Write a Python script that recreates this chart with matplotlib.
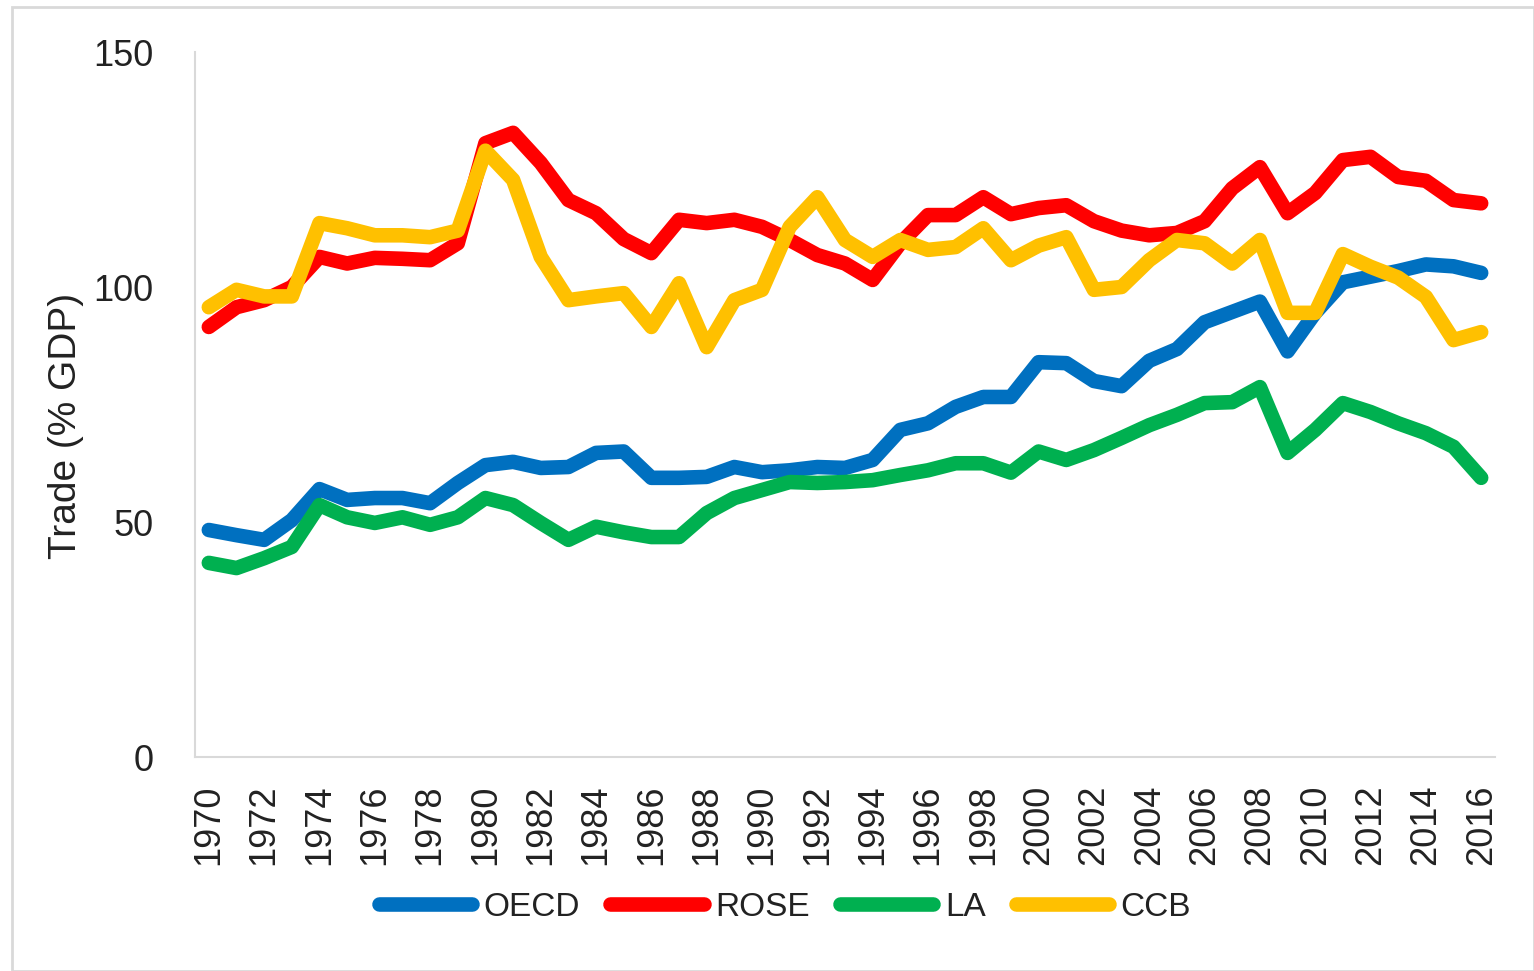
import matplotlib.pyplot as plt
from matplotlib.patches import Rectangle

years = list(range(1970, 2017))

oecd = [48.3, 47.2, 46.2, 50.4, 57.0, 54.7, 55.1, 55.1, 54.0, 58.3,
        62.1, 62.8, 61.5, 61.7, 64.7, 65.0, 59.4, 59.4, 59.6, 61.7,
        60.6, 61.0, 61.7, 61.5, 63.2, 69.6, 71.0, 74.5, 76.6, 76.6,
        84.0, 83.8, 80.0, 78.9, 84.3, 86.8, 92.5, 94.7, 96.9, 86.3,
        94.5, 101.0, 102.2, 103.4, 104.8, 104.4, 103.0]

rose = [91.5, 95.7, 97.2, 100.0, 106.4, 105.0, 106.2, 106.0, 105.7, 109.3,
        130.6, 132.8, 126.4, 118.5, 115.7, 110.2, 107.2, 114.3, 113.6, 114.3,
        112.8, 110.0, 106.8, 105.0, 101.5, 109.3, 115.3, 115.3, 119.1, 115.5,
        116.8, 117.4, 114.0, 112.0, 111.0, 111.5, 114.0, 121.0, 125.5, 115.7,
        120.0, 127.0, 127.7, 123.4, 122.6, 118.5, 117.8]

la = [41.3, 40.2, 42.3, 44.7, 53.6, 51.0, 49.8, 51.0, 49.4, 51.0,
      55.1, 53.6, 49.8, 46.2, 49.0, 47.8, 46.8, 46.8, 51.9, 55.1,
      56.8, 58.5, 58.3, 58.5, 58.9, 60.0, 61.0, 62.5, 62.5, 60.5,
      65.0, 63.2, 65.3, 67.9, 70.6, 72.8, 75.3, 75.5, 78.7, 64.7,
      69.6, 75.3, 73.4, 71.0, 68.9, 66.0, 59.4]

ccb = [95.7, 99.4, 98.0, 98.0, 113.6, 112.5, 111.0, 111.0, 110.6, 112.0,
       129.0, 122.8, 106.4, 97.2, 98.0, 98.7, 91.5, 100.8, 87.2, 97.2,
       99.4, 112.8, 119.1, 110.0, 106.4, 110.0, 107.9, 108.5, 112.5, 105.7,
       108.8, 110.6, 99.4, 100.0, 105.7, 110.0, 109.3, 105.0, 110.0, 94.5,
       94.5, 107.0, 104.3, 102.0, 97.9, 88.7, 90.4]

series = [('OECD', oecd, '#0070C0'),
          ('ROSE', rose, '#FF0000'),
          ('LA', la, '#00B050'),
          ('CCB', ccb, '#FFC000')]

plt.rcParams['font.family'] = ['Liberation Sans', 'DejaVu Sans']

fig = plt.figure(figsize=(15.34, 9.71), dpi=100)
ax = fig.add_axes([195 / 1534, 1 - 757 / 971, 1300 / 1534, 705 / 971])

for name, values, color in series:
    ax.plot(years, values, color=color, lw=10.5, label=name,
            solid_capstyle='round', solid_joinstyle='round')

ax.set_xlim(1969.5, 2016.5)
ax.set_ylim(0, 150)
ax.set_yticks([0, 50, 100, 150])
ax.set_xticks(years[::2])
ax.set_xticklabels([str(y) for y in years[::2]], rotation=90)
ax.tick_params(axis='y', length=0, pad=30, labelsize=26, labelcolor='#222222')
ax.tick_params(axis='x', length=0, pad=20, labelsize=26, labelcolor='#222222')

for side in ['top', 'right']:
    ax.spines[side].set_visible(False)
for side in ['left', 'bottom']:
    ax.spines[side].set_color('#D9D9D9')
    ax.spines[side].set_linewidth(1.5)

ax.set_ylabel('Trade (% GDP)', fontsize=28, color='#222222')
ax.yaxis.set_label_coords(-0.085, 0.47)

fig.legend(loc='center', bbox_to_anchor=(785 / 1534, 1 - 907 / 971),
           ncol=4, frameon=False, fontsize=24, handlelength=2.8,
           handletextpad=0.35, columnspacing=0.9, labelcolor='#222222')

fig.add_artist(Rectangle((12 / 1534, 0), 1 - 12 / 1534, 1 - 7 / 971,
                         transform=fig.transFigure, fill=False,
                         edgecolor='#D9D9D9', lw=2))

fig.savefig('out.png', dpi=100)
